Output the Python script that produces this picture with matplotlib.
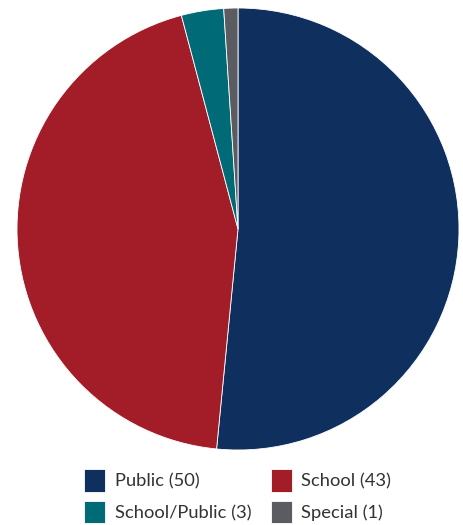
import matplotlib.pyplot as plt

labels = ["Public", "School", "School/Public", "Special"]
counts = [50, 43, 3, 1]
colors = ["#0f305e", "#a31d29", "#006b77", "#5b5c61"]

fig = plt.figure(figsize=(4.64, 5.25), dpi=100)
ax = fig.add_axes([17 / 464, 75 / 525, 442 / 464, 442 / 525])

wedges, _ = ax.pie(counts, colors=colors, startangle=90, counterclock=False,
                   radius=1.0, wedgeprops=dict(edgecolor="white", linewidth=0.6))
ax.set_xlim(-1, 1)
ax.set_ylim(-1, 1)
ax.set_aspect("equal")

# legend reads row by row, matplotlib fills column by column
order = [0, 2, 1, 3]
legend_labels = [f"{labels[i]} ({counts[i]})" for i in order]
leg = fig.legend([wedges[i] for i in order], legend_labels, ncol=2, loc="upper left",
                 bbox_to_anchor=(77 / 464, 1 - 462 / 525), frameon=False,
                 prop={"family": "Lato", "size": 13.2},
                 handlelength=1.15, handleheight=1.5, handletextpad=0.5,
                 columnspacing=1.07, labelspacing=0.5, borderaxespad=0)
for t in leg.get_texts():
    t.set_color("#333333")

fig.savefig("out.png", dpi=100)
